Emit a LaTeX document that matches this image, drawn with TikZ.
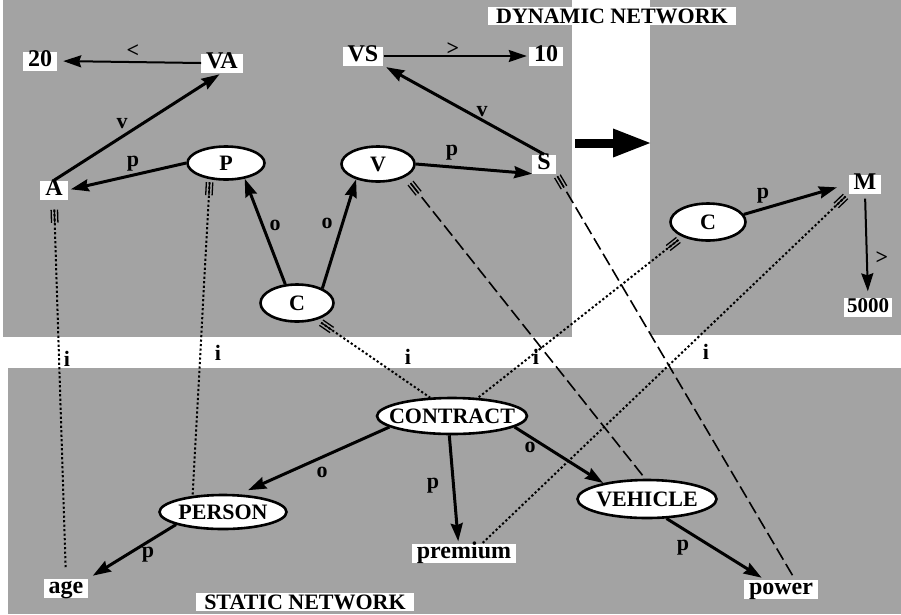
\documentclass[tikz,border=0pt]{standalone}
\usepackage{fontspec}
\setmainfont{Liberation Serif}
\usetikzlibrary{shapes.geometric,arrows.meta,calc}
\definecolor{panel}{gray}{0.64}
\tikzset{
  box/.style={fill=white, inner xsep=5pt, inner ysep=0pt, text height=15pt, text depth=4pt, font=\fontsize{24}{24}\selectfont\bfseries},
  ell/.style={ellipse, draw, line width=2.6pt, fill=white, inner sep=0pt},
  elltxt/.style={font=\fontsize{22}{22}\selectfont\bfseries, inner sep=0pt},
  lbl/.style={font=\fontsize{22}{22}\selectfont\bfseries, inner sep=0pt},
  titlebox/.style={fill=white, inner xsep=8pt, inner ysep=1.5pt, font=\fontsize{22}{22}\selectfont\bfseries},
  rel/.style={line width=3pt, -{Stealth[length=18pt,width=12pt,inset=2pt]}},
  threl/.style={line width=2pt, -{Stealth[length=18pt,width=12pt,inset=2pt]}},
  dotlink/.style={line width=2pt, dash pattern=on 2.2pt off 2.3pt},
  dashlink/.style={line width=1.6pt, dash pattern=on 13pt off 5pt},
  tickline/.style={line width=1.3pt},
}
\newcommand{\tickmarks}[2]{%
  \foreach \k in {-3.2,0,3.2}{%
    \draw[tickline] ($(#1)!\k pt!90:(#2)$) -- ($($(#1)!13pt!(#2)$)!\k pt!90:(#2)$);
  }}
\begin{document}
\begin{tikzpicture}[x=1pt,y=-1pt]
\useasboundingbox (0,0) rectangle (901,614);
% panels
\fill[panel] (3,0) rectangle (572,337);
\fill[panel] (650,0) rectangle (901,335);
\fill[panel] (8,368) rectangle (901,614);
% titles
\node[titlebox] (dyn) at (612,16) {DYNAMIC NETWORK};
\node[titlebox] (stat) at (305,602) {STATIC NETWORK};
% big arrow
\coordinate (bigS) at (575,143);
\coordinate (bigE) at (652,143);
\draw[line width=9pt, -{Triangle[length=39pt,width=26pt]}] (bigS) -- (bigE);
% text nodes
\node[box] (n20) at (40,61) {20};
\node[box] (VA) at (222,63) {VA};
\node[box] (VS) at (363,56) {VS};
\node[box] (n10) at (546,56) {10};
\node[box] (A) at (54,190) {A};
\node[box] (S) at (544,164) {S};
\node[box] (M) at (865,184) {M};
\node[box, inner xsep=3pt, font=\fontsize{21}{21}\selectfont\bfseries] (n5000) at (868,307) {5000};
\node[box] (age) at (66,588) {age};
\node[box] (premium) at (464,553) {premium};
\node[box] (power) at (781,589) {power};
% ellipses
\node[ell, minimum width=77pt, minimum height=33pt, label={[elltxt]center:P}] (P) at (226,163) {};
\node[ell, minimum width=73pt, minimum height=35pt, label={[elltxt]center:V}] (V) at (378,164) {};
\node[ell, minimum width=73pt, minimum height=37pt, label={[elltxt]center:C}] (C1) at (297,303) {};
\node[ell, minimum width=75pt, minimum height=37pt, label={[elltxt]center:C}] (C2) at (708,222) {};
\node[ell, minimum width=150pt, minimum height=36pt, label={[elltxt]center:CONTRACT}] (CONTRACT) at (452,416) {};
\node[ell, minimum width=127pt, minimum height=34pt, label={[elltxt]center:PERSON}] (PERSON) at (223,512) {};
\node[ell, minimum width=139pt, minimum height=38pt, label={[elltxt]center:VEHICLE}] (VEHICLE) at (647,499) {};
% instance links
\coordinate (iA) at ($(A.south)!10pt!(age.north)$);
\draw[dotlink, shorten >=9pt] (iA) -- (age.north);
\tickmarks{iA}{age.north}
\coordinate (iP) at ($(P.225)!3pt!(PERSON.152)$);
\draw[dotlink] (iP) -- (PERSON.152);
\tickmarks{iP}{PERSON.152}
\coordinate (iC1) at ($(C1.-40)!5pt!(CONTRACT.140)$);
\draw[dotlink] (iC1) -- (CONTRACT.140);
\tickmarks{iC1}{CONTRACT.140}
\coordinate (iC2) at ($(C2.210)!5pt!(CONTRACT.35)$);
\draw[dotlink] (iC2) -- (CONTRACT.35);
\tickmarks{iC2}{CONTRACT.35}
\coordinate (iM) at ($(M.south west)!4pt!(premium.28)$);
\draw[dotlink] (iM) -- (premium.28);
\tickmarks{iM}{premium.28}
\coordinate (iV) at ($(V.-25)!8pt!(VEHICLE.95)$);
\draw[dashlink] (iV) -- (VEHICLE.95);
\tickmarks{iV}{VEHICLE.95}
\coordinate (iS) at ($(S.south east)!3pt!(power.35)$);
\draw[dashlink] (iS) -- (power.35);
\tickmarks{iS}{power.35}
% relations
\draw[threl, shorten >=6pt] (VA.west) -- (n20.east);
\draw[rel, shorten >=3pt] (A.north) -- (VA.south);
\draw[rel, shorten >=3pt] (P.west) -- (A.east);
\draw[threl, shorten >=2pt] (VS.east) -- (n10.west);
\draw[rel, shorten >=3pt] (S.north) -- (VS.south east);
\draw[rel] (V.east) -- (S.south west);
\draw[rel] (C1.122) -- (P.-40);
\draw[rel] (C1.30) -- (V.215);
\draw[rel, shorten >=12pt] (C2.12) -- (M.west);
\draw[threl, shorten <=5pt, shorten >=6pt] (M.south) -- (n5000.north);
\draw[rel, shorten >=10pt] (CONTRACT.190) -- (PERSON.48);
\draw[rel, shorten >=2pt] (CONTRACT.262) -- (premium.120);
\draw[rel] (CONTRACT.-10) -- (VEHICLE.160);
\draw[rel, shorten >=3pt] (VEHICLE.-45) -- (power.150);
\draw[rel, shorten >=5pt] (PERSON.195) -- (age.north east);
% edge labels
\node[lbl] (l1) at (133,51) {<};
\node[lbl] (l2) at (122,124) {v};
\node[lbl] (l3) at (133,164) {p};
\node[lbl] (l4) at (453,49) {>};
\node[lbl] (l5) at (482,112) {v};
\node[lbl] (l6) at (452,153) {p};
\node[lbl] (l7) at (275,225) {o};
\node[lbl] (l8) at (327,223) {o};
\node[lbl] (l9) at (763,196) {p};
\node[lbl] (l10) at (882,258) {>};
\node[lbl] (l11) at (322,472) {o};
\node[lbl] (l12) at (433,486) {p};
\node[lbl] (l13) at (530,447) {o};
\node[lbl] (l14) at (148,555) {p};
\node[lbl] (l15) at (683,548) {p};
% i labels
\node[lbl] (i1) at (67,359) {i};
\node[lbl] (i2) at (218,353) {i};
\node[lbl] (i3) at (408,357) {i};
\node[lbl] (i4) at (536,357) {i};
\node[lbl] (i5) at (706,352) {i};
\end{tikzpicture}
\end{document}
